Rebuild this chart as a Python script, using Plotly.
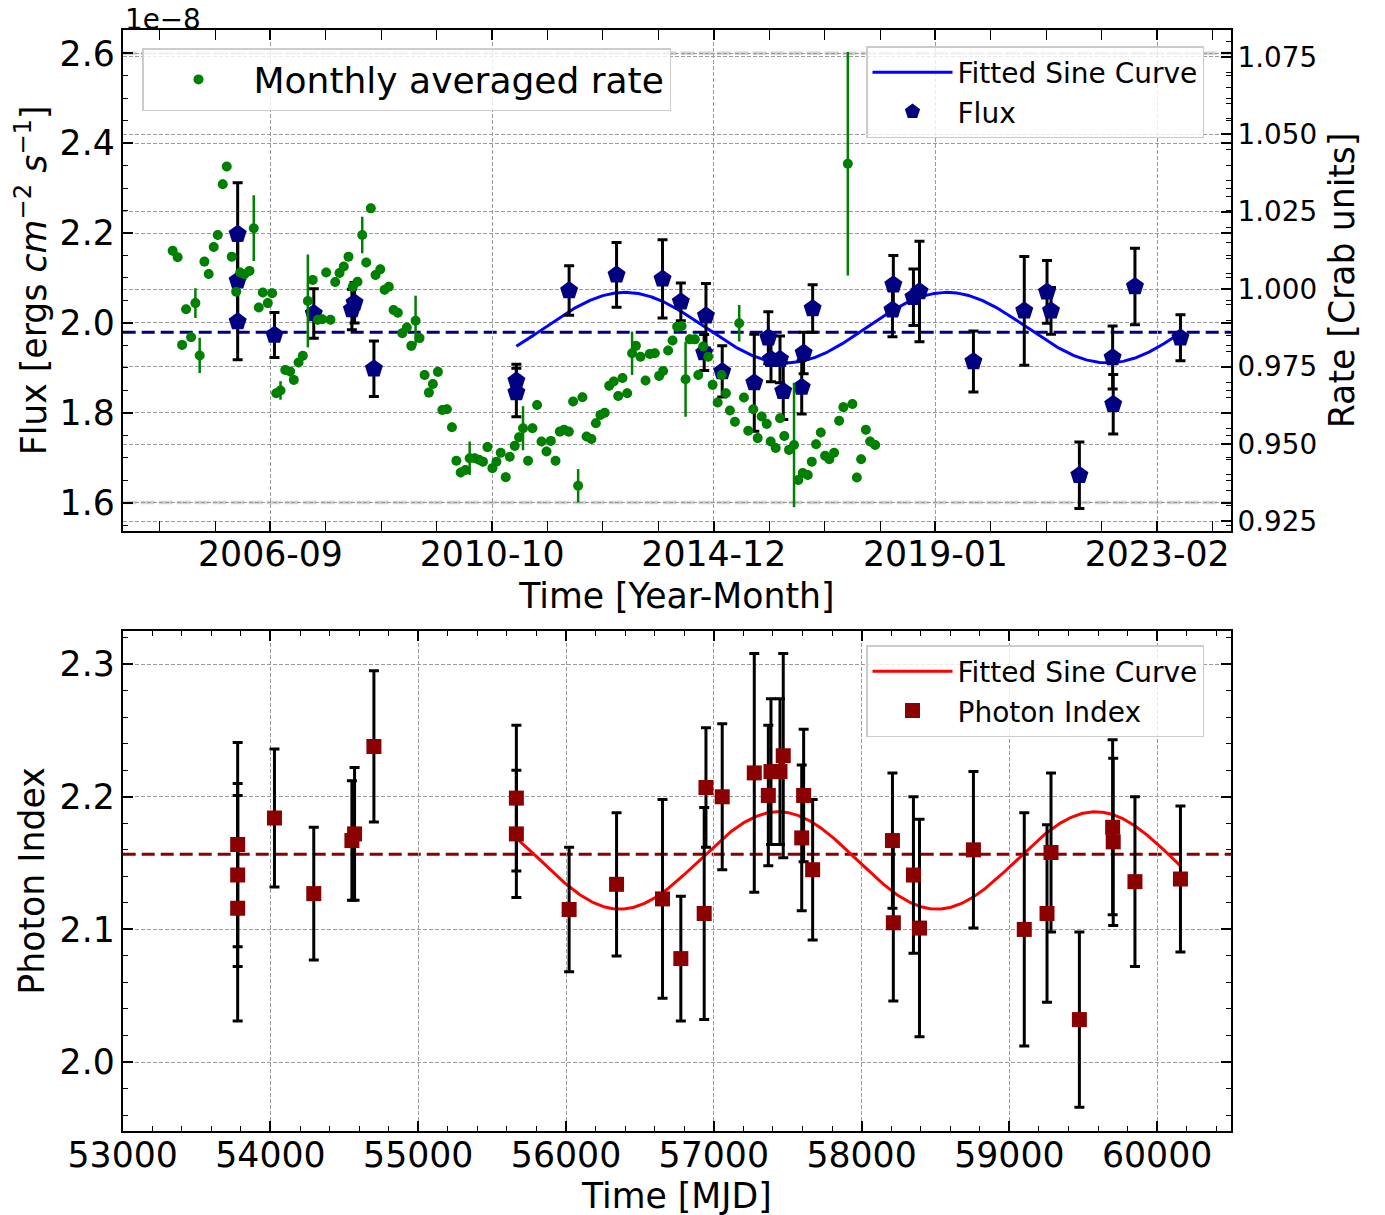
import numpy as np
import plotly.graph_objects as go
from datetime import datetime, timedelta

# ---------------- data ----------------
# Analysis bins (MJD) shared by flux and photon-index panels
bin_mjd = [53778, 53778, 53778, 54027, 54293, 54551, 54569, 54700, 55664, 55664,
           56021, 56342, 56653, 56777, 56935, 56947, 57057, 57274, 57369, 57387,
           57448, 57470, 57595, 57608, 57669, 58209, 58215, 58351, 58392, 58757,
           59101, 59255, 59282, 59474, 59699, 59703, 59850, 60158]

# Flux in units of 1e-8 erg cm^-2 s^-1
flux = [2.198, 2.094, 2.003, 1.973, 2.021, 2.030, 2.045, 1.898, 1.871, 1.845,
        2.072, 2.107, 2.098, 2.047, 1.934, 2.016, 1.892, 1.867, 1.967, 1.919,
        1.919, 1.848, 1.857, 1.933, 2.032, 2.029, 2.085, 2.057, 2.070, 1.914,
        2.027, 2.069, 2.027, 1.661, 1.923, 1.819, 2.081, 1.967]
flux_err = [0.114, 0.090, 0.085, 0.050, 0.055, 0.045, 0.045, 0.062, 0.037, 0.054,
            0.055, 0.072, 0.087, 0.042, 0.040, 0.072, 0.057, 0.108, 0.058, 0.050,
            0.052, 0.063, 0.060, 0.046, 0.053, 0.060, 0.065, 0.063, 0.112, 0.068,
            0.121, 0.070, 0.052, 0.074, 0.070, 0.066, 0.085, 0.051]

photon_index = [2.164, 2.141, 2.116, 2.184, 2.127, 2.167, 2.172, 2.238, 2.199, 2.172,
                2.115, 2.134, 2.123, 2.078, 2.112, 2.207, 2.200, 2.218, 2.201, 2.219,
                2.219, 2.231, 2.169, 2.201, 2.145, 2.167, 2.105, 2.141, 2.101, 2.160,
                2.100, 2.112, 2.158, 2.032, 2.177, 2.166, 2.136, 2.138]
photon_index_err = [0.077, 0.069, 0.085, 0.052, 0.050, 0.045, 0.050, 0.057, 0.055, 0.048,
                    0.047, 0.054, 0.075, 0.047, 0.080, 0.045, 0.055, 0.090, 0.053, 0.055,
                    0.055, 0.077, 0.055, 0.050, 0.053, 0.051, 0.059, 0.059, 0.082, 0.059,
                    0.088, 0.067, 0.060, 0.066, 0.066, 0.063, 0.064, 0.055]

# Monthly averaged rate (Crab units)
rate_mjd = [53338, 53372, 53402, 53429, 53463, 53492, 53521, 53553, 53582, 53616,
            53643, 53677, 53704, 53738, 53768, 53795, 53824, 53858, 53887, 53921,
            53948, 53982, 54011, 54039, 54068, 54100, 54133, 54158, 54190, 54219,
            54253, 54286, 54320, 54350, 54377, 54406, 54438, 54467, 54496, 54528,
            54557, 54589, 54621, 54648, 54679, 54711, 54743, 54772, 54801, 54833,
            54862, 54892, 54923, 54953, 54982, 55009,
            55043, 55072, 55099, 55133, 55163, 55194, 55228, 55258, 55287, 55319,
            55348, 55382, 55411, 55438, 55468, 55502, 55529, 55558, 55592, 55619,
            55653, 55682, 55709, 55743, 55773, 55804, 55834, 55868, 55897, 55929,
            55958, 55987, 56019, 56048, 56082, 56111, 56139, 56172, 56202, 56233,
            56262, 56292, 56323, 56353, 56382, 56414, 56447, 56473, 56504, 56538,
            56567, 56601, 56630, 56657, 56691, 56721, 56752, 56782, 56809, 56838,
            56872, 56895,
            56928, 56962, 56992, 57026, 57053, 57082, 57109, 57143, 57172, 57204,
            57233, 57267, 57297, 57324, 57358, 57385, 57419, 57448, 57477, 57509,
            57543, 57572, 57602, 57636, 57663, 57692, 57724, 57753, 57782, 57814,
            57848, 57877, 57907, 57938, 57968, 57997, 58029, 58058, 58092]
rate = [1.0124, 1.0103, 0.9820, 0.9935, 0.9845, 0.9955, 0.9786, 1.0089, 1.0049, 1.0136,
        1.0175, 1.0339, 1.0396, 1.0105, 0.9992, 1.0054, 1.0048, 1.0059, 1.0197, 0.9941,
        0.9989, 0.9955, 0.9987, 0.9664, 0.9673, 0.9739, 0.9734, 0.9707, 0.9763, 0.9785,
        0.9962, 1.0030, 0.9901, 0.9903, 1.0054, 0.9901, 1.0023, 1.0052, 1.0073, 1.0105,
        1.0008, 1.0024, 1.0175, 1.0086, 1.0261, 1.0046, 1.0064, 0.9998, 1.0008, 0.9933,
        0.9924, 0.9858, 0.9876, 0.9817, 0.9898, 0.9842,
        0.9723, 0.9666, 0.9694, 0.9733, 0.9610, 0.9612, 0.9554, 0.9446, 0.9408, 0.9416,
        0.9454, 0.9454, 0.9449, 0.9443, 0.9490, 0.9422, 0.9443, 0.9472, 0.9393, 0.9459,
        0.9494, 0.9522, 0.9551, 0.9446, 0.9551, 0.9626, 0.9508, 0.9476, 0.9510, 0.9446,
        0.9540, 0.9546, 0.9540, 0.9637, 0.9365, 0.9651, 0.9524, 0.9516, 0.9567, 0.9594,
        0.9601, 0.9688, 0.9702, 0.9655, 0.9713, 0.9664, 0.9793, 0.9817, 0.9782, 0.9705,
        0.9791, 0.9793, 0.9720, 0.9736, 0.9802, 0.9834, 0.9879, 0.9881, 0.9709, 0.9838,
        0.9838, 0.9723,
        0.9815, 0.9782, 0.9691, 0.9634, 0.9723, 0.9664, 0.9608, 0.9572, 0.9890, 0.9650,
        0.9543, 0.9612, 0.9519, 0.9589, 0.9565, 0.9508, 0.9487, 0.9583, 0.9526, 0.9481,
        0.9497, 0.9384, 0.9406, 0.9400, 0.9443, 0.9499, 0.9537, 0.9462, 0.9451, 0.9472,
        0.9575, 0.9619, 1.0405, 0.9629, 0.9392, 0.9451, 0.9546, 0.9508, 0.9497]
rate_err = [0.0015, 0.0015, 0.0015, 0.0015, 0.0015, 0.0048, 0.0057, 0.0015, 0.0015, 0.0015,
            0.0015, 0.0015, 0.0015, 0.0015, 0.0015, 0.0015, 0.0015, 0.0015, 0.0106, 0.0015,
            0.0015, 0.0015, 0.0015, 0.0015, 0.0030, 0.0015, 0.0015, 0.0015, 0.0015, 0.0015,
            0.0150, 0.0015, 0.0015, 0.0015, 0.0015, 0.0015, 0.0015, 0.0015, 0.0015, 0.0015,
            0.0015, 0.0015, 0.0059, 0.0015, 0.0015, 0.0015, 0.0015, 0.0015, 0.0015, 0.0015,
            0.0015, 0.0015, 0.0015, 0.0015, 0.0081, 0.0015,
            0.0015, 0.0015, 0.0015, 0.0015, 0.0015, 0.0015, 0.0015, 0.0015, 0.0015, 0.0015,
            0.0054, 0.0015, 0.0015, 0.0015, 0.0015, 0.0015, 0.0015, 0.0015, 0.0015, 0.0015,
            0.0015, 0.0015, 0.0071, 0.0015, 0.0015, 0.0015, 0.0015, 0.0015, 0.0015, 0.0015,
            0.0015, 0.0015, 0.0015, 0.0015, 0.0054, 0.0015, 0.0015, 0.0015, 0.0015, 0.0015,
            0.0015, 0.0015, 0.0015, 0.0015, 0.0015, 0.0015, 0.0070, 0.0015, 0.0015, 0.0015,
            0.0015, 0.0015, 0.0015, 0.0015, 0.0015, 0.0015, 0.0015, 0.0015, 0.0121, 0.0015,
            0.0015, 0.0015,
            0.0015, 0.0015, 0.0015, 0.0015, 0.0015, 0.0015, 0.0015, 0.0015, 0.0059, 0.0015,
            0.0015, 0.0015, 0.0015, 0.0015, 0.0015, 0.0015, 0.0015, 0.0015, 0.0015, 0.0015,
            0.0201, 0.0015, 0.0015, 0.0015, 0.0015, 0.0015, 0.0015, 0.0015, 0.0015, 0.0015,
            0.0015, 0.0015, 0.0361, 0.0015, 0.0015, 0.0015, 0.0015, 0.0015, 0.0015]

# Mean levels (dashed lines)
flux_mean = 1.979
photon_index_mean = 2.1566
flux_ref_levels = [1.6, 2.6]

# Fitted sine parameters (offset + amp * cos(2*pi*(t - t_peak)/period))
flux_fit = dict(offset=1.9895, amp=0.0785, period=2177.0, t_peak=56400.0)
index_fit = dict(offset=2.152, amp=0.0367, period=2146.0, t_peak=57437.0)
fit_start, fit_end = 55664, 60158

# Axis tick positions
date_tick_mjd = [54000, 55500, 57000, 58500, 60000]
mjd_ticks = [53000, 54000, 55000, 56000, 57000, 58000, 59000, 60000]


def mjd_to_label(m):
    return (datetime(1858, 11, 17) + timedelta(days=m)).strftime("%Y-%m")


def sine(t, p):
    return p["offset"] + p["amp"] * np.cos(2 * np.pi * (t - p["t_peak"]) / p["period"])


t_fit = np.linspace(fit_start, fit_end, 600)

# ---------------- figure ----------------
W, H = 1385, 1215
OFF = 8  # page body offset of the plot div
FONT = "DejaVu Sans"
TICK = 34.7
SMALL = 27.8


def fx(px):
    return (px - OFF) / W


def fy(py):
    return 1 - (py - OFF) / H


fig = go.Figure()

fig.add_trace(go.Scatter(
    x=t_fit, y=sine(t_fit, flux_fit), mode="lines",
    line=dict(color="#0000ff", width=3), name="Fitted Sine Curve",
    xaxis="x", yaxis="y", legend="legend2"))
fig.add_trace(go.Scatter(
    x=bin_mjd, y=flux, mode="markers", name="Flux",
    marker=dict(symbol="pentagon", size=19, color="#000080", line=dict(width=0)),
    error_y=dict(type="data", array=flux_err, color="black", thickness=3, width=5),
    xaxis="x", yaxis="y", legend="legend2"))

fig.add_trace(go.Scatter(
    x=t_fit, y=sine(t_fit, index_fit), mode="lines",
    line=dict(color="#ff0000", width=3), name="Fitted Sine Curve",
    xaxis="x2", yaxis="y3", legend="legend3"))
fig.add_trace(go.Scatter(
    x=bin_mjd, y=photon_index, mode="markers", name="Photon Index",
    marker=dict(symbol="square", size=15, color="#8b0000", line=dict(width=0)),
    error_y=dict(type="data", array=photon_index_err, color="black", thickness=3, width=5),
    xaxis="x2", yaxis="y3", legend="legend3"))

fig.add_trace(go.Scatter(
    x=rate_mjd, y=rate, mode="markers", name="Monthly averaged rate",
    marker=dict(symbol="circle", size=10, color="#008000", line=dict(width=0)),
    error_y=dict(type="data", array=rate_err, color="#008000", thickness=2.5, width=0),
    xaxis="x", yaxis="y2", legend="legend", showlegend=True))

# Shapes: reference levels and mean lines
for lvl in flux_ref_levels:
    fig.add_shape(type="line", xref="x domain", yref="y", x0=0, x1=1, y0=lvl, y1=lvl,
                  line=dict(color="#d3d3d3", width=3.5, dash="14px,4px"), layer="below")
fig.add_shape(type="line", xref="x domain", yref="y", x0=0, x1=1, y0=flux_mean, y1=flux_mean,
              line=dict(color="#000080", width=3, dash="13px,6px"), layer="below")
fig.add_shape(type="line", xref="x2 domain", yref="y3", x0=0, x1=1,
              y0=photon_index_mean, y1=photon_index_mean,
              line=dict(color="#8b0000", width=3, dash="13px,6px"), layer="below")

grid = dict(showgrid=True, gridcolor="#9a9a9a", griddash="4px,2px", gridwidth=1)
axis_common = dict(showline=True, linecolor="black", linewidth=2, ticks="inside",
                   ticklen=10, tickwidth=1.5, tickcolor="black", zeroline=False,
                   automargin=False,
                   tickfont=dict(family=FONT, size=TICK, color="black"),
                   title_font=dict(family=FONT, size=TICK, color="black"), **grid)

xdom = [fx(122.7), fx(1231)]
top_dom = [fy(530.7), fy(30)]
bot_dom = [fy(1131), fy(631)]

legend_style = dict(xanchor="left", yanchor="top", bgcolor="rgba(255,255,255,0.8)",
                    bordercolor="#cccccc", borderwidth=1.5)

fig.update_layout(
    width=W, height=H, template="none", showlegend=True,
    margin=dict(l=0, r=0, t=0, b=0),
    plot_bgcolor="white", paper_bgcolor="white",
    font=dict(family=FONT, color="black"),
    xaxis=dict(domain=xdom, anchor="y", range=[53000, 60500],
               tickmode="array", tickvals=date_tick_mjd,
               ticktext=[mjd_to_label(m) for m in date_tick_mjd],
               mirror="allticks", ticklabelstandoff=-8,
               minor=dict(tickmode="linear", tick0=54000, dtick=375, ticks="inside",
                          ticklen=5, tickwidth=1.2, tickcolor="black", showgrid=False),
               title=dict(text="Time [Year-Month]", standoff=10),
               **axis_common),
    yaxis=dict(domain=top_dom, anchor="x", range=[1.5375, 2.652],
               tick0=1.6, dtick=0.2, tickformat=".1f", mirror="allticks",
               ticklabelstandoff=-1,
               minor=dict(tick0=1.6, dtick=0.05, ticks="inside", ticklen=5,
                          tickwidth=1.2, tickcolor="black", showgrid=False),
               title=dict(text="Flux [ergs <i>cm</i><sup>−2</sup> <i>s</i><sup>−1</sup>]",
                          standoff=8),
               **axis_common),
    yaxis2=dict(overlaying="y", side="right", anchor="x", range=[0.922, 1.0837],
                tick0=0.925, dtick=0.025, tickformat=".3f", ticklabelstandoff=-1,
                minor=dict(tick0=0.925, dtick=0.005, ticks="inside", ticklen=5,
                           tickwidth=1.2, tickcolor="black", showgrid=False),
                title=dict(text="Rate [Crab units]", standoff=14),
                **{**axis_common, "tickfont": dict(family=FONT, size=SMALL, color="black")}),
    xaxis2=dict(domain=xdom, anchor="y3", range=[53000, 60500],
                tickmode="array", tickvals=mjd_ticks, tickformat="d",
                mirror="allticks", ticklabelstandoff=-8,
                minor=dict(tickmode="linear", tick0=53000, dtick=200, ticks="inside",
                           ticklen=5, tickwidth=1.2, tickcolor="black", showgrid=False),
                title=dict(text="Time [MJD]", standoff=10),
                **axis_common),
    yaxis3=dict(domain=bot_dom, anchor="x2", range=[1.948, 2.325],
                tick0=2.0, dtick=0.1, tickformat=".1f", mirror="allticks",
                ticklabelstandoff=-1,
                minor=dict(tick0=2.0, dtick=0.02, ticks="inside", ticklen=5,
                           tickwidth=1.2, tickcolor="black", showgrid=False),
                title=dict(text="Photon Index", standoff=4),
                **axis_common),
    legend=dict(x=fx(142), y=fy(48), font=dict(family=FONT, size=36, color="black"),
                itemwidth=100, **legend_style),
    legend2=dict(x=fx(866), y=fy(46), font=dict(family=FONT, size=28, color="black"),
                 itemwidth=80, **legend_style),
    legend3=dict(x=fx(866), y=fy(645), font=dict(family=FONT, size=28, color="black"),
                 itemwidth=80, **legend_style),
    annotations=[dict(text="1e−8", xref="paper", yref="paper", x=fx(122.7), y=fy(20),
                      xanchor="left", yanchor="middle", showarrow=False,
                      font=dict(family=FONT, size=SMALL, color="black"))],
)

fig.write_html("out.html")
